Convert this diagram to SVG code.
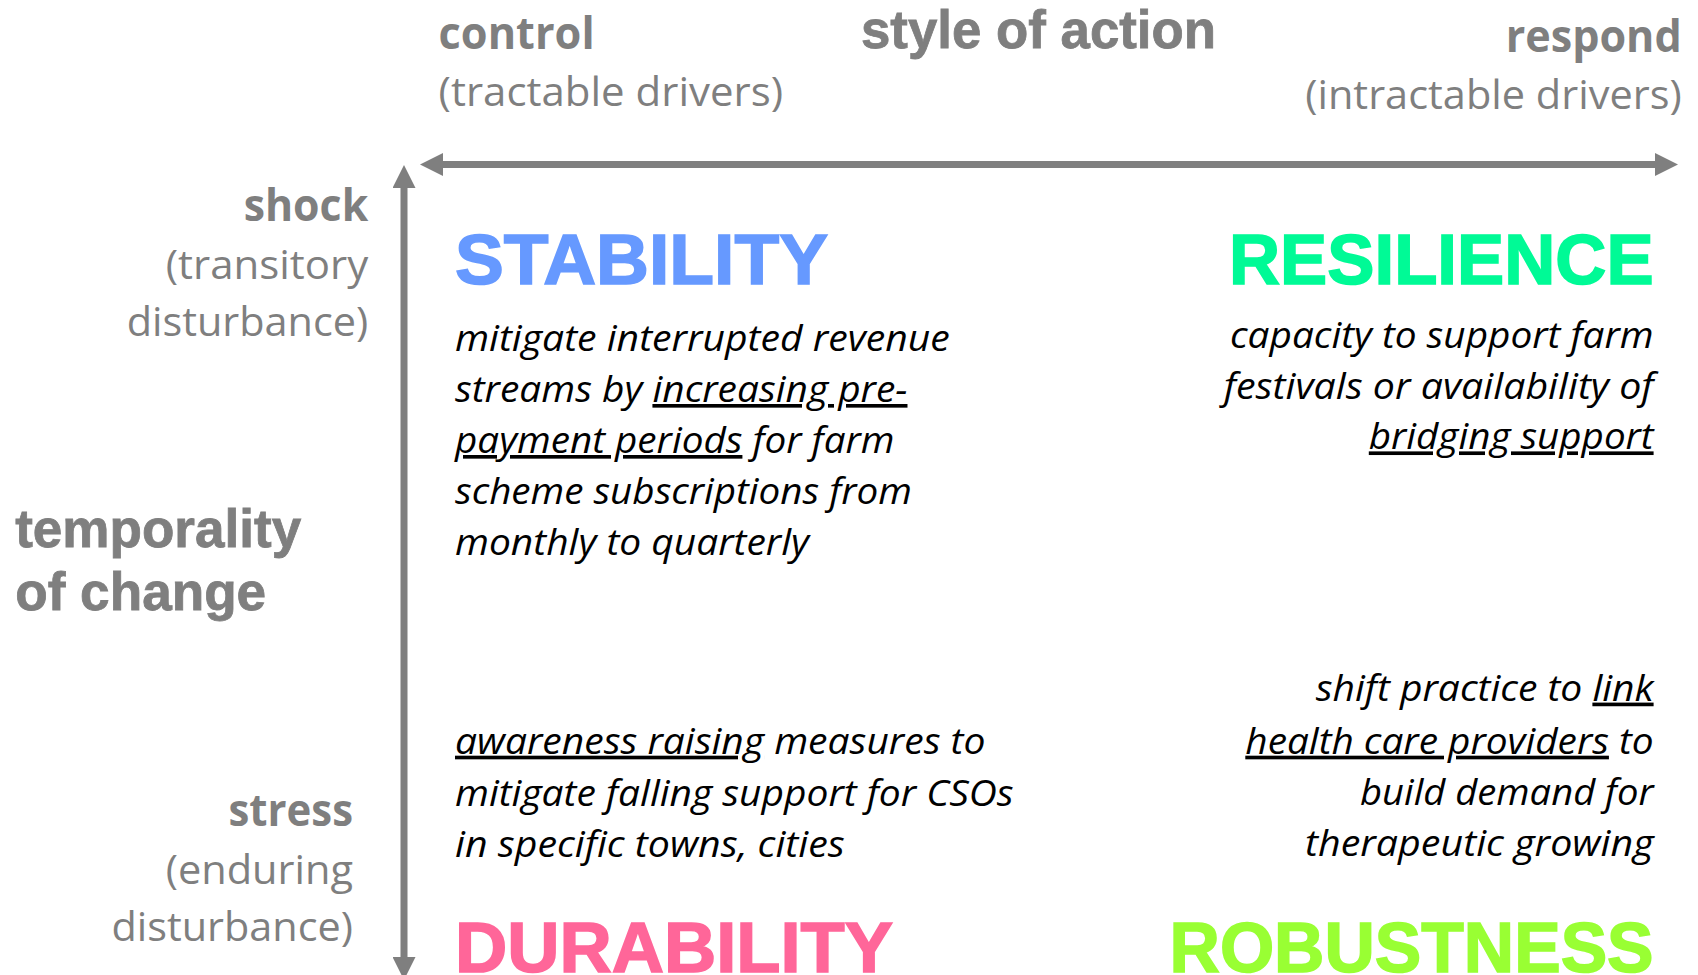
<svg xmlns="http://www.w3.org/2000/svg" width="1698" height="975" viewBox="0 0 1698 975">
<style>
.cal{font-family:"Open Sans","Noto Sans",sans-serif;fill:#7f7f7f}
.calb{font-weight:700;font-size:45px}
.calr{font-weight:400;font-size:41px}
.ar{font-family:"Liberation Sans",Arial,sans-serif;font-weight:700;fill:#7f7f7f;font-size:53px;stroke:#7f7f7f;stroke-width:0.8px}
.title{font-family:"Liberation Sans",Arial,sans-serif;font-weight:700;font-size:71px;stroke-width:1.6px}
.body{font-family:"Open Sans","Noto Sans",sans-serif;font-style:italic;font-size:36.5px;fill:#000}
.u{text-decoration:underline}
.axis{stroke:#7f7f7f;stroke-width:7;fill:none}
</style>
<defs>
<marker id="ah" viewBox="0 0 23 23" refX="0" refY="11.5" markerWidth="23" markerHeight="23" markerUnits="userSpaceOnUse" orient="auto-start-reverse">
<path d="M0,0 L23,11.5 L0,23 Z" fill="#7f7f7f"/>
</marker>
</defs>
<rect width="1698" height="975" fill="#fff"/>
<g id="connectors">
<line class="axis" x1="443" y1="164.5" x2="1655" y2="164.5" marker-start="url(#ah)" marker-end="url(#ah)"/>
<line class="axis" x1="404" y1="188" x2="404" y2="957" marker-start="url(#ah)" marker-end="url(#ah)"/>
</g>
<g id="axis-x-label">
<text class="ar" x="861" y="47.6" textLength="355" lengthAdjust="spacingAndGlyphs">style of action</text>
</g>
<g id="control-label">
<text class="cal calb" x="438.6" y="48.7" textLength="156" lengthAdjust="spacingAndGlyphs">control</text>
<text class="cal calr" x="438.6" y="106" textLength="344.5" lengthAdjust="spacingAndGlyphs">(tractable drivers)</text>
</g>
<g id="respond-label" text-anchor="end">
<text class="cal calb" x="1681.7" y="52" textLength="176" lengthAdjust="spacingAndGlyphs">respond</text>
<text class="cal calr" x="1681.7" y="109.4" textLength="376.5" lengthAdjust="spacingAndGlyphs">(intractable drivers)</text>
</g>
<g id="axis-y-label">
<text class="ar" x="15.2" y="547" textLength="286" lengthAdjust="spacingAndGlyphs">temporality</text>
<text class="ar" x="15.2" y="609.7" textLength="251" lengthAdjust="spacingAndGlyphs">of change</text>
</g>
<g id="shock-label" text-anchor="end">
<text class="cal calb" x="368.2" y="221" textLength="124.5" lengthAdjust="spacingAndGlyphs">shock</text>
<text class="cal calr" x="368.2" y="279" textLength="202.5" lengthAdjust="spacingAndGlyphs">(transitory</text>
<text class="cal calr" x="368.2" y="335.7" textLength="241.5" lengthAdjust="spacingAndGlyphs">disturbance)</text>
</g>
<g id="stress-label" text-anchor="end">
<text class="cal calb" x="353" y="826" textLength="124.5" lengthAdjust="spacingAndGlyphs">stress</text>
<text class="cal calr" x="353" y="883.6" textLength="187.3" lengthAdjust="spacingAndGlyphs">(enduring</text>
<text class="cal calr" x="353" y="941" textLength="241.5" lengthAdjust="spacingAndGlyphs">disturbance)</text>
</g>
<g id="stability">
<text class="title" x="455" y="284" fill="#6699ff" stroke="#6699ff" textLength="373" lengthAdjust="spacingAndGlyphs">STABILITY</text>
<text class="body" x="455" y="351" textLength="494.7" lengthAdjust="spacingAndGlyphs">mitigate interrupted revenue</text>
<text class="body" x="455" y="402" textLength="452.5" lengthAdjust="spacingAndGlyphs">streams by <tspan class="u">increasing pre-</tspan></text>
<text class="body" x="455" y="453" textLength="439.5" lengthAdjust="spacingAndGlyphs"><tspan class="u">payment periods</tspan> for farm</text>
<text class="body" x="455" y="504" textLength="456.8" lengthAdjust="spacingAndGlyphs">scheme subscriptions from</text>
<text class="body" x="455" y="555" textLength="354" lengthAdjust="spacingAndGlyphs">monthly to quarterly</text>
</g>
<g id="resilience" text-anchor="end">
<text class="title" x="1653.6" y="284" fill="#00fa96" stroke="#00fa96" textLength="424.6" lengthAdjust="spacingAndGlyphs">RESILIENCE</text>
<text class="body" x="1653.6" y="347.6" textLength="423.6" lengthAdjust="spacingAndGlyphs">capacity to support farm</text>
<text class="body" x="1653.6" y="398.5" textLength="429.9" lengthAdjust="spacingAndGlyphs">festivals or availability of</text>
<text class="body" x="1653.6" y="449.4" textLength="284.8" lengthAdjust="spacingAndGlyphs"><tspan class="u">bridging support</tspan></text>
</g>
<g id="durability">
<text class="title" x="455" y="972" fill="#ff6699" stroke="#ff6699" textLength="438" lengthAdjust="spacingAndGlyphs">DURABILITY</text>
<text class="body" x="455" y="753.7" textLength="530.4" lengthAdjust="spacingAndGlyphs"><tspan class="u">awareness raising</tspan> measures to</text>
<text class="body" x="455" y="805.7" textLength="558.6" lengthAdjust="spacingAndGlyphs">mitigate falling support for CSOs</text>
<text class="body" x="455" y="856.6" textLength="389.7" lengthAdjust="spacingAndGlyphs">in specific towns, cities</text>
</g>
<g id="robustness" text-anchor="end">
<text class="title" x="1653.6" y="972" fill="#99ff33" stroke="#99ff33" textLength="484" lengthAdjust="spacingAndGlyphs">ROBUSTNESS</text>
<text class="body" x="1653.6" y="700.6" textLength="337.9" lengthAdjust="spacingAndGlyphs">shift practice to <tspan class="u">link</tspan></text>
<text class="body" x="1653.6" y="753.7" textLength="408.3" lengthAdjust="spacingAndGlyphs"><tspan class="u">health care providers</tspan> to</text>
<text class="body" x="1653.6" y="804.6" textLength="293.6" lengthAdjust="spacingAndGlyphs">build demand for</text>
<text class="body" x="1653.6" y="855.5" textLength="348.6" lengthAdjust="spacingAndGlyphs">therapeutic growing</text>
</g>
</svg>
